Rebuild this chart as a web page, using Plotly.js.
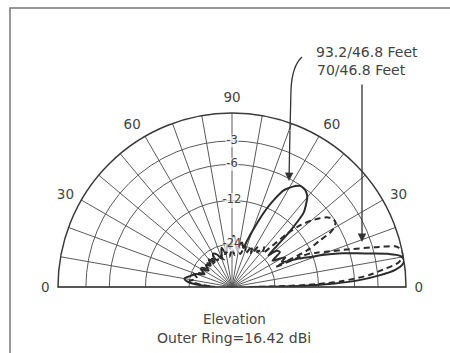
<!DOCTYPE html>
<html>
<head>
<meta charset="utf-8">
<script src="https://cdn.plot.ly/plotly-3.0.1.min.js"></script>
<style>html,body{margin:0;padding:0;background:#fff}#chart{width:450px;height:353px}</style>
</head>
<body>
<div id="chart"></div>
<script>
// Elevation angles (deg, 0 = right horizon, 180 = left horizon) and relative gain (dB)
const solidName = "93.2/46.8 Feet";
const solidTheta = [0,1,2,3,4.5,6,7.5,9,10.5,12,13.5,15,17,19,21,23,25,27,29,31,33,36,39,41,42.5,44,46,48,50,52,54,56,58,60,62,64,66,68,70,72,74,77,80,83,86,88,90,93,96,100,105,110,115,120,125,130,135,140,145,150,155,160,165,170,174,177,180];
const solidDb    = [-40,-15,-9,-5.5,-2.8,-1,-0.2,0,-0.3,-1.5,-3.3,-5,-7,-9.5,-12.5,-15,-18,-19.5,-18,-20,-22,-18.5,-19,-22,-18,-13,-9,-7.8,-6.8,-6.3,-6.1,-6.1,-6.5,-7.2,-8,-9.8,-12,-15,-18.5,-22,-25,-23,-24,-26,-22,-21,-22,-26,-24,-28,-25,-30,-27,-26,-30,-27,-30,-28,-31,-27,-30,-26,-24,-22,-24,-30,-40];

const dashName = "70/46.8 Feet";
const dashTheta = [0,1,2,3,5,6.6,8.3,10,11.5,13,14,15.6,17.8,20,22,23.5,24.7,26,27.8,29,30.5,32,34,36,38,40,42,44,46,48,51,54,57,60,64,68,72,76,80,85,90,95,100,106,112,118,124,130,136,142,148,154,160,166,172,176,180];
const dashDb    = [-40,-20,-12,-8,-4,-2.3,-0.6,-0.1,0,-0.2,-0.6,-2.8,-5.9,-8.8,-11,-12.8,-22,-12.5,-9.8,-7.5,-6.5,-6.1,-6.1,-6.6,-7.6,-9,-10.8,-14,-20,-23,-21,-24,-22,-26,-23,-27,-24,-28,-25,-29,-26,-30,-27,-31,-28,-30,-27,-31,-28,-30,-27,-29,-25,-27,-24,-30,-40];

// Radial rings (dB) and angular tick labels
const ringDb = [-3,-6,-12,-24];
const ringLabels = ["-3","-6","-12","-24"];
const angTickVals = [0,10,20,30,40,50,60,70,80,90,100,110,120,130,140,150,160,170,180];
const angTickText = ["0","","","30","","","60","","","90","","","60","","","30","","","0"];

// ARRL log-periodic radial scale: 0.89 per 2 dB
const toR = db => Math.pow(0.89, -db / 2);

const lineCol = "#2b2b2b";
const gridCol = "#5a5a5a";
const txtCol = "#444";
const fontFam = "DejaVu Sans, Liberation Sans, sans-serif";

const traces = [
  {type:"scatterpolar", mode:"lines", name:solidName, theta:solidTheta, r:solidDb.map(toR),
   line:{color:lineCol, width:2, shape:"spline", smoothing:0.8}, hoverinfo:"skip"},
  {type:"scatterpolar", mode:"lines", name:dashName, theta:dashTheta, r:dashDb.map(toR),
   line:{color:lineCol, width:2, dash:"6px,4px", shape:"spline", smoothing:0.8}, hoverinfo:"skip"},
  // white backing behind ring labels (gap in ring and spoke lines)
  {type:"scatterpolar", mode:"markers", theta:ringDb.map(()=>90), r:ringDb.map(toR),
   marker:{symbol:"square", size:[13,13,15,15], color:"#ffffff", line:{width:0}}, hoverinfo:"skip"},
  {type:"scatterpolar", mode:"text", theta:ringDb.map(()=>90), r:ringDb.map(toR), text:ringLabels,
   textfont:{family:fontFam, size:11.5, color:txtCol}, textposition:"middle center", hoverinfo:"skip"}
];

const W = 450, H = 353;
const px = x => x / W, py = y => 1 - y / H;

const layout = {
  width:W, height:H, margin:{l:0,r:0,t:0,b:0},
  paper_bgcolor:"#ffffff", showlegend:false,
  font:{family:fontFam, color:txtCol, size:12},
  polar:{
    domain:{x:[58/W, 406/W], y:[66/H, 240/H]},
    sector:[0,180], bgcolor:"#ffffff",
    radialaxis:{range:[0,1], tickvals:ringDb.map(toR), showticklabels:false, ticks:"",
      showline:false, gridcolor:gridCol, gridwidth:1},
    angularaxis:{rotation:0, direction:"counterclockwise", tickvals:angTickVals, ticktext:angTickText,
      ticks:"outside", ticklen:5, tickcolor:"rgba(0,0,0,0)", showline:true, linecolor:"#3a3a3a", linewidth:1.5,
      gridcolor:gridCol, gridwidth:1, tickfont:{family:fontFam, size:13.5, color:txtCol}}
  },
  shapes:[
    {type:"path", xref:"paper", yref:"paper",
     path:`M ${10/W} 0 L ${10/W} ${py(8)} L 1.2 ${py(8)}`, line:{color:"#777", width:1.5}},
    {type:"path", xref:"paper", yref:"paper",
     path:`M ${px(302)} ${py(57)} Q ${px(292)} ${py(66)} ${px(291)} ${py(90)} L ${px(290)} ${py(130)}`,
     line:{color:"#333", width:1.3}}
  ],
  annotations:[
    {xref:"paper", yref:"paper", x:px(314), y:py(52), xanchor:"left", yanchor:"middle", showarrow:false,
     text:solidName, font:{family:fontFam, size:14, color:txtCol}},
    {xref:"paper", yref:"paper", x:px(315), y:py(70), xanchor:"left", yanchor:"middle", showarrow:false,
     text:dashName, font:{family:fontFam, size:14, color:txtCol}},
    {xref:"paper", yref:"paper", x:px(234), y:py(319), xanchor:"center", yanchor:"middle", showarrow:false,
     text:"Elevation", font:{family:fontFam, size:13.5, color:txtCol}},
    {xref:"paper", yref:"paper", x:px(234), y:py(338), xanchor:"center", yanchor:"middle", showarrow:false,
     text:"Outer Ring=16.42 dBi", font:{family:fontFam, size:14, color:txtCol}},
    {xref:"paper", yref:"paper", x:px(289), y:py(181), ax:1, ay:-52, text:"", showarrow:true,
     arrowhead:2, arrowsize:1.3, arrowwidth:1.3, arrowcolor:"#333"},
    {xref:"paper", yref:"paper", x:px(362), y:py(242), ax:0, ay:-159, text:"", showarrow:true,
     arrowhead:2, arrowsize:1.3, arrowwidth:1.3, arrowcolor:"#333"}
  ]
};

Plotly.newPlot("chart", traces, layout, {staticPlot:true, displayModeBar:false});
</script>
</body>
</html>
